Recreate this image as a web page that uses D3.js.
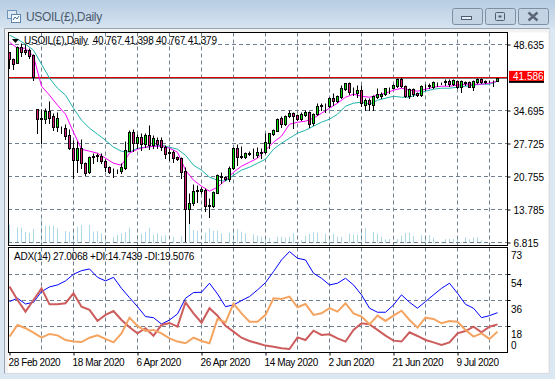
<!DOCTYPE html>
<html><head><meta charset="utf-8">
<script src="https://cdn.jsdelivr.net/npm/d3@7"></script>
<style>html,body{margin:0;padding:0;background:#dbe7f3;overflow:hidden}svg{display:block}text{font-family:"Liberation Sans",sans-serif}</style>
</head><body><svg id="c" width="555" height="379"></svg>
<script>
const titleText = "USOIL(£),Daily";
const ohlcText = "USOIL(£),Daily  40.767 41.398 40.767 41.379";
const adxText = "ADX(14) 27.0068 +DI:14.7439 -DI:19.5076";
const priceTicks = [48.635, 34.695, 27.725, 20.755, 13.785, 6.815];
const gridPrices = [48.635, 34.695, 27.725, 20.755, 13.785, 6.815];
const lastPrice = 41.586;
const dateLabels = ["28 Feb 2020","18 Mar 2020","6 Apr 2020","26 Apr 2020","14 May 2020","2 Jun 2020","21 Jun 2020","9 Jul 2020"];
const adxLabels = [73,54,36,18,0];

const opens = [47.01,45.53,44.68,48.06,47.43,47.43,46.37,34.97,32.97,32.86,34.55,33.49,31.17,30.96,30.96,29.48,26.73,24.20,26.73,23.56,21.66,24.83,25.04,25.04,23.99,22.72,22.09,22.09,21.87,22.51,26.10,30.11,27.79,29.06,27.58,29.48,27.37,28.42,28.42,26.94,25.89,25.89,24.83,24.62,21.87,13.85,15.12,17.65,17.65,17.86,14.69,14.48,17.23,20.61,20.61,20.18,22.51,26.73,25.04,24.83,25.68,25.68,25.25,25.68,25.89,27.79,29.69,30.32,33.07,31.80,33.49,34.12,33.70,32.86,33.70,34.33,32.01,33.91,35.60,35.60,35.60,37.29,36.66,37.50,39.19,40.46,38.56,38.35,38.98,35.81,36.87,35.81,37.50,37.71,38.14,39.40,39.40,39.83,41.31,39.83,37.71,39.19,38.35,37.93,39.83,39.83,39.62,40.46,40.46,40.67,40.88,40.25,40.88,39.62,40.67,40.67,39.62,40.67,41.31,40.88,40.88,40.88,40.767];
const highs = [47.01,45.74,48.27,48.91,48.70,47.85,46.59,34.97,34.97,35.18,36.66,34.12,34.33,31.38,31.80,30.75,28.42,28.21,28.63,23.77,25.04,25.68,25.68,25.68,24.41,22.93,22.51,22.30,23.56,28.21,30.53,30.75,29.69,29.90,29.90,31.59,29.48,29.06,29.06,27.37,26.73,26.31,25.04,24.83,22.72,17.23,19.13,18.92,18.50,18.28,16.17,17.65,21.24,21.66,20.82,22.93,26.94,27.58,27.15,25.89,26.10,26.73,26.94,26.73,29.90,29.90,30.75,33.07,33.49,33.70,34.76,34.33,33.91,34.33,34.76,34.55,34.12,36.24,36.24,36.24,37.50,38.35,37.93,40.04,40.46,40.67,39.62,40.04,40.04,37.29,37.29,37.93,39.40,38.56,39.40,39.62,40.25,41.52,41.73,40.04,39.40,39.40,38.56,40.04,40.25,40.46,40.88,40.67,40.67,41.31,41.31,41.31,41.09,41.09,40.88,40.88,41.09,41.52,41.52,41.09,41.09,41.09,41.398];
const lows = [43.63,43.42,44.68,46.16,46.59,45.74,41.09,29.90,27.79,32.01,32.01,30.53,30.32,29.90,28.63,26.52,20.39,21.66,22.51,21.03,21.45,23.56,23.99,23.56,21.87,21.45,20.61,21.45,21.45,22.30,26.10,26.10,26.73,26.31,26.94,26.52,26.73,26.73,26.31,24.62,24.20,23.77,24.20,20.39,7.09,10.89,14.69,15.33,17.23,13.43,12.16,14.27,17.23,19.34,19.97,19.76,22.30,23.14,24.62,24.62,25.25,24.62,24.83,24.62,25.68,26.73,29.48,30.32,31.17,31.59,33.28,30.96,32.65,32.65,33.49,31.17,31.59,33.70,34.76,34.33,35.39,35.81,36.45,37.29,38.98,38.14,37.93,37.50,35.60,34.76,34.76,34.76,37.29,37.29,37.93,38.35,39.40,39.62,39.62,37.50,37.29,37.71,37.71,37.71,38.98,39.40,39.40,39.83,40.25,40.04,39.83,40.04,39.40,38.56,40.04,39.62,38.98,40.46,40.46,40.46,40.67,39.83,40.767];
const closes = [45.53,44.47,48.06,47.01,47.01,46.16,41.73,32.86,32.86,34.55,33.07,31.17,33.07,30.96,29.27,26.73,24.20,26.73,23.56,21.45,24.83,25.04,25.25,23.99,22.72,21.66,22.09,22.09,22.72,26.31,30.11,27.79,29.06,27.58,29.48,27.37,28.84,27.58,26.94,25.46,25.68,24.62,24.41,21.66,13.85,15.12,17.65,17.86,18.07,14.48,14.48,17.44,21.03,20.82,20.18,22.51,26.73,24.83,24.83,25.68,25.46,25.68,25.89,25.89,28.00,29.90,30.53,32.86,31.80,33.49,34.12,33.49,32.86,33.91,34.33,31.80,33.91,35.60,35.81,35.60,37.29,36.66,37.71,39.40,40.46,38.56,38.56,38.98,36.24,36.87,36.02,37.71,38.14,38.14,39.40,39.40,40.04,41.31,39.83,37.71,39.19,38.14,37.93,39.83,39.83,40.04,40.67,40.46,40.46,40.88,40.25,41.09,39.62,40.88,40.46,39.62,40.88,41.31,40.67,40.67,40.88,40.88,41.379];
// tick volume per bar
const volumes = [1800,100,1570,1530,1130,1030,1400,100,2400,1730,1730,1730,1470,100,1200,1130,1070,1630,1800,100,1800,1130,1200,970,800,100,630,800,970,1130,1530,100,800,900,1130,1530,800,970,700,800,100,630,100,700,1470,1970,1300,1200,100,1030,1470,1230,1230,970,100,1030,1300,1400,1130,970,100,870,730,630,630,530,100,630,630,530,630,1000,100,300,700,900,1070,1030,100,930,700,930,630,630,100,930,830,830,1100,1530,100,1100,900,630,370,400,100,400,730,970,1030,700,100,770,730,770,530,130,100,400,400,400,570,100,570,370,570,570,230,130,70,70,70];
// lines sampled on every second bar
const maFast = [49.12,47.85,47.85,46.16,39.83,37.93,35.81,33.91,30.11,26.52,26.10,25.68,24.62,23.56,23.14,25.68,26.52,26.94,27.15,27.15,26.73,25.89,22.09,19.97,18.71,17.65,18.50,19.97,21.66,22.93,23.77,24.62,26.31,28.00,29.27,31.80,32.22,32.44,33.07,34.12,35.18,36.24,37.50,38.14,37.71,37.50,37.93,38.35,38.98,39.40,38.98,38.77,39.19,39.62,39.83,39.83,40.04,40.25,40.25,40.25,40.46,40.88];
const maSlow = [50.60,49.75,48.70,47.43,44.47,41.52,39.40,37.93,35.18,32.65,30.96,29.69,28.42,26.94,26.10,25.89,26.73,26.94,27.15,27.37,26.94,26.52,25.25,23.14,22.09,20.61,19.97,19.76,21.03,22.09,22.72,23.56,24.41,26.52,27.79,28.84,29.90,30.53,31.38,32.22,32.86,33.91,35.60,36.24,36.45,36.02,36.87,37.29,37.71,37.50,37.50,38.14,38.77,39.19,39.40,39.40,39.62,39.83,40.04,40.25,40.25,40.88];
const adx = [34.2,36.3,32.6,33.7,40.6,43.6,44.9,47.5,51.8,54.1,55.2,49.8,47.5,49.8,42.7,36.7,30.9,24.5,23.8,19.7,22.3,26.2,36.3,40.0,40.2,46.0,39.1,30.9,32.0,34.8,37.4,41.7,46.4,53.5,61.0,66.4,62.1,61.0,52.4,49.2,44.9,46.0,49.2,44.9,38.5,29.9,27.3,27.3,32.0,38.5,33.7,29.9,34.2,38.5,42.7,46.0,39.5,32.4,29.9,23.8,25.1,27.0];
const minusDI = [43.8,35.2,27.7,35.2,42.7,32.4,32.4,33.1,39.5,30.9,28.8,21.7,25.6,28.1,22.3,17.6,13.7,17.0,12.2,19.1,20.4,18.0,33.7,26.6,20.6,29.9,25.1,18.5,14.8,10.9,8.8,7.3,5.8,5.1,4.1,3.6,11.1,9.4,15.4,12.7,13.1,10.5,8.4,15.9,20.2,19.5,15.9,12.2,9.0,8.4,14.4,12.0,9.4,7.9,6.2,7.9,13.7,15.2,18.0,14.4,18.0,19.5];
const plusDI = [11.6,19.1,17.0,14.2,10.9,13.3,12.4,9.4,8.4,8.1,10.9,12.4,10.1,7.9,13.7,23.8,18.5,15.2,15.9,13.7,10.5,8.4,7.3,10.9,8.8,7.3,23.0,20.8,32.9,26.6,21.2,21.2,25.6,36.3,35.9,37.4,30.5,32.6,25.6,26.6,29.9,27.7,33.1,26.6,24.5,19.5,25.1,21.7,25.1,28.3,22.3,17.4,23.8,23.0,20.2,21.7,21.2,15.9,11.6,13.7,10.1,14.8];

const P = {l:8,r:507.5,t:32.5,m:245.5,t2:247.5,b:352.5};
const svg = d3.select("#c");
const defs = svg.append("defs");
const tg = defs.append("linearGradient").attr("id","tb").attr("x1",0).attr("x2",0).attr("y1",0).attr("y2",1);
tg.append("stop").attr("offset",0).attr("stop-color","#b7cde2");
tg.append("stop").attr("offset",1).attr("stop-color","#d6e3f0");
defs.append("clipPath").attr("id","mc").append("rect").attr("x",P.l).attr("y",P.t).attr("width",P.r-P.l).attr("height",P.m-P.t);
defs.append("clipPath").attr("id","ac").append("rect").attr("x",P.l).attr("y",P.t2).attr("width",P.r-P.l).attr("height",P.b-P.t2);

// window chrome
svg.append("rect").attr("width",555).attr("height",379).attr("fill","#dbe7f3");
svg.append("rect").attr("width",555).attr("height",28).attr("fill","url(#tb)");
svg.append("rect").attr("x",4.5).attr("y",28.5).attr("width",545).attr("height",345).attr("fill","#f2f2f2").attr("stroke","#d9dde2");
svg.append("path").attr("d","M4.5 373.5V28.5H549.5").attr("fill","none").attr("stroke","#9aa4ae");
svg.append("rect").attr("x",P.l).attr("y",P.t).attr("width",540).attr("height",340).attr("fill","#fff");
// icon
const ic = svg.append("g").attr("fill","none");
ic.append("rect").attr("x",7.5).attr("y",10.5).attr("width",9).attr("height",8).attr("fill","#dce9f5").attr("stroke","#6f93b5");
ic.append("rect").attr("x",11.5).attr("y",14.5).attr("width",9).attr("height",8).attr("fill","#fff").attr("stroke","#5f86ad");
ic.append("path").attr("d","M13 20l2-3 2 2 2-3").attr("stroke","#3d6fa3");
svg.append("text").attr("x",26).attr("y",21).attr("font-size",12).attr("letter-spacing",-0.35).attr("fill","#4a5a6e").text(titleText);
// window buttons
[[452,30,"min"],[485,30,"max"],[518,30,"close"]].forEach(([bx,w,k])=>{
  svg.append("rect").attr("x",bx+.5).attr("y",8.5).attr("width",w).attr("height",16).attr("rx",2).attr("fill","#c3d3e4").attr("stroke","#7d8fa3");
  const cx=bx+w/2+.5, cy=16.5;
  if(k==="min") svg.append("rect").attr("x",cx-6).attr("y",cy).attr("width",10).attr("height",3).attr("fill","#e8eef5").attr("stroke","#4f5d6e");
  if(k==="max"){svg.append("rect").attr("x",cx-5).attr("y",cy-4).attr("width",9).attr("height",8).attr("rx",1).attr("fill","none").attr("stroke","#4f5d6e");svg.append("rect").attr("x",cx-2).attr("y",cy-1).attr("width",3).attr("height",2).attr("fill","#4f5d6e");}
  if(k==="close") svg.append("path").attr("d",`M${cx-5} ${cy-4}L${cx+4} ${cy+4}M${cx+4} ${cy-4}L${cx-5} ${cy+4}`).attr("stroke","#5a6675").attr("stroke-width",2.4);
});

const x = d3.scaleLinear().domain([0,122]).range([9.5,497.5]);
const y = d3.scaleLinear().domain([48.635,6.815]).range([44.5,242.5]);
const yA = d3.scaleLinear().domain([0,68.7]).range([354.6,248]);
const yV = d3.scaleLinear().domain([0,2400]).range([243,219]);
const sy = v => Math.round(y(v)-.5)+.5;

const main = svg.append("g").attr("clip-path","url(#mc)");
const dash = "4,3", gridCol = "#708090";
const vBars = d3.range(8,122,8);
// volumes behind grid
main.append("g").selectAll("line").data(volumes).join("line").attr("x1",(d,i)=>x(i)).attr("x2",(d,i)=>x(i)).attr("y1",yV(0)).attr("y2",d=>yV(d)).attr("stroke","#add8e6");
main.append("g").selectAll("line").data(gridPrices).join("line").attr("x1",P.l).attr("x2",P.r).attr("y1",d=>sy(d)).attr("y2",d=>sy(d)).attr("stroke",gridCol).attr("stroke-dasharray",dash);
main.append("g").selectAll("line").data(vBars).join("line").attr("x1",d=>x(d)).attr("x2",d=>x(d)).attr("y1",P.t).attr("y2",P.m).attr("stroke",gridCol).attr("stroke-dasharray",dash);
// price line
main.append("line").attr("x1",P.l).attr("x2",P.r).attr("y1",sy(lastPrice)+1).attr("y2",sy(lastPrice)+1).attr("stroke","#777c83");
main.append("line").attr("x1",P.l).attr("x2",P.r).attr("y1",sy(lastPrice)).attr("y2",sy(lastPrice)).attr("stroke","#e00000");
// moving averages
const lineP = d3.line().x((d,i)=>x(i*2)).y(d=>y(d));
main.append("path").datum(maSlow).attr("d",lineP).attr("fill","none").attr("stroke","#20b2aa");
main.append("path").datum(maFast).attr("d",lineP).attr("fill","none").attr("stroke","#ff00ff");
// candles
const bars = d3.range(opens.length);
const g = main.append("g");
g.selectAll("line").data(bars).join("line").attr("x1",i=>x(i)).attr("x2",i=>x(i)).attr("y1",i=>sy(highs[i])).attr("y2",i=>sy(lows[i])+.5).attr("stroke","#000");
g.selectAll("rect").data(bars).join("rect")
  .attr("x",i=>x(i)-1).attr("width",2)
  .attr("y",i=>sy(Math.max(opens[i],closes[i])))
  .attr("height",i=>Math.max(0,sy(Math.min(opens[i],closes[i]))-sy(Math.max(opens[i],closes[i]))))
  .attr("fill",i=>closes[i]>=opens[i]?"#00e000":"#d81b7a").attr("stroke","#000");

// ADX panel
const adxG = svg.append("g").attr("clip-path","url(#ac)");
const adxGrid = [52,35.2,18.5];
adxG.append("g").selectAll("line").data(adxGrid).join("line").attr("x1",P.l).attr("x2",P.r).attr("y1",d=>Math.round(yA(d))+.5).attr("y2",d=>Math.round(yA(d))+.5).attr("stroke",gridCol).attr("stroke-dasharray",dash);
adxG.append("g").selectAll("line").data(vBars).join("line").attr("x1",d=>x(d)).attr("x2",d=>x(d)).attr("y1",P.t2).attr("y2",P.b).attr("stroke",gridCol).attr("stroke-dasharray",dash);
const lineA = d3.line().x((d,i)=>x(i*2)).y(d=>yA(d));
adxG.append("path").datum(adx).attr("d",lineA).attr("fill","none").attr("stroke","#0000ff");
adxG.append("path").datum(minusDI).attr("d",lineA).attr("fill","none").attr("stroke","#cd5c5c").attr("stroke-width",2);
adxG.append("path").datum(plusDI).attr("d",lineA).attr("fill","none").attr("stroke","#f4a460").attr("stroke-width",2);

// frames
[[P.t,P.m],[P.t2,P.b]].forEach(([a,b])=>svg.append("rect").attr("x",P.l+.5).attr("y",a).attr("width",P.r-P.l-.5).attr("height",b-a).attr("fill","none").attr("stroke","#000"));

// price axis
const axR = d3.axisRight(y).tickValues(priceTicks).tickSize(3).tickPadding(3).tickFormat(d3.format(".3f"));
const gr = svg.append("g").attr("transform",`translate(${P.r},0)`).call(axR);
gr.select(".domain").remove();
gr.selectAll("text").attr("font-size",10).attr("fill","#000").attr("font-family",'"Liberation Sans"').attr("dy","0.36em");
// last price tag
svg.append("rect").attr("x",509).attr("y",y(lastPrice)+3).attr("width",35).attr("height",2).attr("fill","#000");
svg.append("rect").attr("x",509).attr("y",y(lastPrice)-7).attr("width",35).attr("height",10).attr("fill","#ff0000");
svg.append("text").attr("x",513).attr("y",y(lastPrice)+2).attr("font-size",10).attr("fill","#fff").text(d3.format(".3f")(lastPrice));

// ADX axis labels
const adxLabelBase = [259,287,313,338,349];
adxLabels.forEach((v,i)=>{svg.append("text").attr("x",511).attr("y",adxLabelBase[i]).attr("font-size",10).text(v);});
svg.append("g").selectAll("line").data(adxGrid).join("line").attr("x1",P.r).attr("x2",P.r+3).attr("y1",d=>Math.round(yA(d))+.5).attr("y2",d=>Math.round(yA(d))+.5).attr("stroke","#000");

// date axis
const dateBars = dateLabels.map((d,i)=>i*16);
const axB = d3.axisBottom(x).tickValues(dateBars).tickSize(3).tickPadding(3).tickFormat((d,i)=>dateLabels[i]);
const gb = svg.append("g").attr("transform",`translate(0,${P.b})`).call(axB);
gb.select(".domain").remove();
gb.selectAll("text").attr("text-anchor","start").attr("dx",-1.5).attr("font-size",10).attr("letter-spacing",-0.4).attr("fill","#000").attr("font-family",'"Liberation Sans"');

// header texts
svg.append("path").attr("d","M12 39h7l-3.5 4z").attr("fill","#000");
svg.append("text").attr("x",24).attr("y",44).attr("font-size",10).attr("letter-spacing",-0.25).attr("fill","#000").style("white-space","pre").text(ohlcText);
svg.append("text").attr("x",14).attr("y",260).attr("font-size",10).attr("letter-spacing",-0.25).attr("fill","#000").text(adxText);
</script></body></html>
